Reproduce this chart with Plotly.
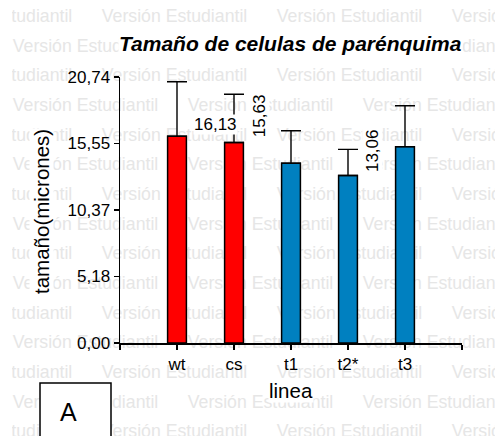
import plotly.graph_objects as go

# ---- data ----
categories = ["wt", "cs", "t1", "t2*", "t3"]
mean_size = [16.13, 15.63, 14.01, 13.06, 15.31]
err_up = [4.24, 3.76, 2.54, 2.04, 3.19]
bar_colors = ["#ff0000", "#ff0000", "#0080c0", "#0080c0", "#0080c0"]
y_ticks = [0.0, 5.185, 10.37, 15.555, 20.74]
y_tick_text = ["0,00", "5,18", "10,37", "15,55", "20,74"]
labelled = [0, 1, 3]                     # bars that carry a value label
label_text = ["16,13", "15,63", "13,06"]
watermark = "Versión Estudiantil"

W, H = 495, 436
FONT = "Liberation Sans, Arial, sans-serif"

# ---- watermark layout (decoration) ----
wm_x, wm_y = [], []
period, row_gap, first_base = 175, 29.66, 22.7
for k in range(15):
    start = -74 if k % 2 == 0 else 12
    base = first_base + row_gap * k
    for j in range(5):
        wm_x.append(start + period * j + 73.5)
        wm_y.append(base - 5.0)

fig = go.Figure()
fig.add_trace(go.Scatter(
    x=wm_x, y=wm_y, mode="text", text=[watermark] * len(wm_x),
    textposition="middle center", cliponaxis=True,
    textfont=dict(family=FONT, size=17.7, color="#e6e6e6"),
    hoverinfo="skip", showlegend=False, xaxis="x", yaxis="y"))

xpos = list(range(1, len(categories) + 1))
fig.add_trace(go.Bar(
    x=xpos, y=mean_size, width=0.33,
    marker=dict(color=bar_colors, line=dict(color="black", width=1.5)),
    error_y=dict(type="data", symmetric=False, array=err_up,
                 arrayminus=[0] * len(err_up), color="black",
                 thickness=1.4, width=10),
    hoverinfo="skip", showlegend=False, xaxis="x2", yaxis="y2"))

x0, x1, ytop, ybot = 120, 462, 77, 343
wm_left = 12
fig.update_layout(
    width=W, height=H,
    margin=dict(l=0, r=0, t=0, b=0, pad=0, autoexpand=False),
    paper_bgcolor="white", plot_bgcolor="rgba(0,0,0,0)",
    font=dict(family=FONT, color="black", size=17),
    xaxis=dict(domain=[wm_left / W, 1], range=[wm_left, W], visible=False,
               fixedrange=True),
    yaxis=dict(domain=[0, 1], range=[H, 0], visible=False, fixedrange=True),
    xaxis2=dict(domain=[x0 / W, x1 / W], anchor="y2", range=[0, 6],
                tickmode="array", tickvals=list(range(0, 7)),
                ticktext=[""] + categories + [""],
                showline=True, linecolor="black", linewidth=1.5,
                ticks="outside", ticklen=5, tickwidth=1.5, tickcolor="black",
                showgrid=False, zeroline=False, automargin=False,
                tickfont=dict(family=FONT, size=17)),
    yaxis2=dict(domain=[(H - ybot) / H, (H - ytop) / H], anchor="x2",
                range=[0, 20.74], tickmode="array", tickvals=y_ticks,
                ticktext=y_tick_text,
                showline=True, linecolor="black", linewidth=1.5,
                ticks="outside", ticklen=5, tickwidth=1.5, tickcolor="black",
                showgrid=False, zeroline=False, automargin=False,
                tickfont=dict(family=FONT, size=17)),
    hovermode=False,
)

def note(text, x, y, size, angle=0, bg="white", xref="paper", yref="paper"):
    fig.add_annotation(text=text, xref=xref, yref=yref, x=x, y=y,
                       xanchor="center", yanchor="middle", textangle=angle,
                       showarrow=False, bgcolor=bg, borderpad=0,
                       font=dict(family=FONT, size=size))

# titles
note("<b><i>Tamaño de celulas de parénquima</i></b>", 290 / W, (H - 43) / H, 21)
note("linea", 291 / W, (H - 390) / H, 20.5)
note("tamaño(micrones)", 41 / W, (H - 212) / H, 20.5, angle=-90)

# value labels
label_dx = [0.67, 0.44, 0.42]
label_dy = [0.87, 2.06, 1.98]
label_angle = [0, -90, -90]
for i, idx in enumerate(labelled):
    note(label_text[i], xpos[idx] + label_dx[i], mean_size[idx] + label_dy[i],
         17, angle=label_angle[i], xref="x2", yref="y2")

# panel box "A"
fig.add_shape(type="rect", xref="paper", yref="paper",
              x0=40 / W, x1=111 / W, y0=(H - 445) / H, y1=(H - 383) / H,
              fillcolor="white", line=dict(color="black", width=1.5),
              layer="above")
note("A", 68 / W, (H - 412) / H, 25, bg="rgba(0,0,0,0)")

fig.write_html("out.html",
               config={"displayModeBar": False, "staticPlot": True},
               post_script="document.body.style.margin='0px';"
                           "document.body.style.padding='0px';")
